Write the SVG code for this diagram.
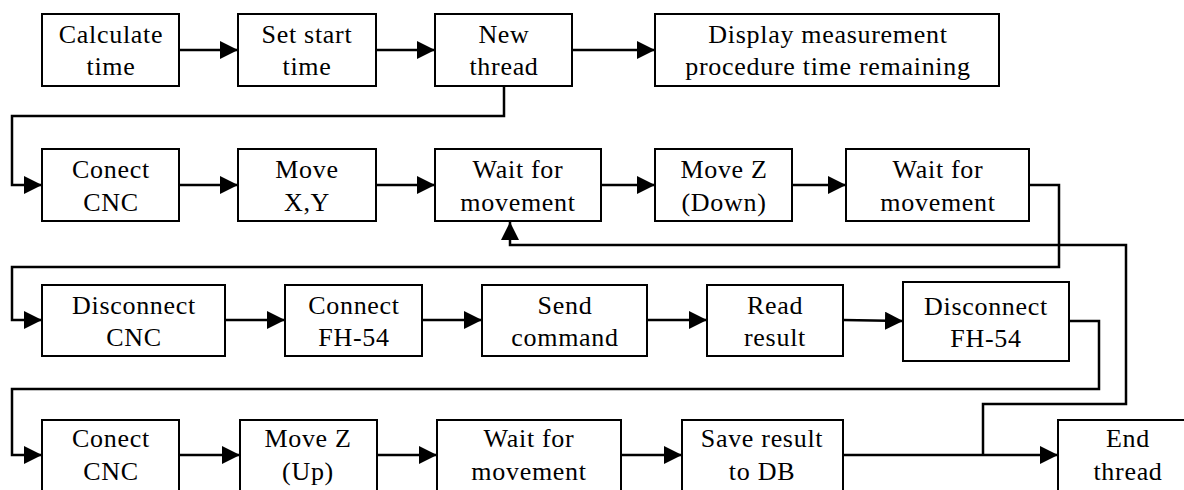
<svg xmlns="http://www.w3.org/2000/svg" width="1184" height="490" viewBox="0 0 1184 490">
<style>
.box{fill:#fff;stroke:#000;stroke-width:2}
.t{font-size:26px;letter-spacing:0.7px;text-anchor:middle;fill:#000}
.c{fill:none;stroke:#000;stroke-width:2.5;marker-end:url(#ah)}
</style>
<defs>
<marker id="ah" markerUnits="userSpaceOnUse" viewBox="0 0 18 18" refX="18" refY="9" markerWidth="18" markerHeight="18" orient="auto">
<polygon points="0,0 18,9 0,18" fill="#000"/>
</marker>
</defs>
<rect width="1184" height="490" fill="#fff"/>
<g id="connectors">
<path class="c" d="M179 50H238"/>
<path class="c" d="M376 50H435"/>
<path class="c" d="M572 50H655"/>
<path class="c" d="M504 86V116H12V185H42"/>
<path class="c" d="M179 185H238"/>
<path class="c" d="M376 185H435"/>
<path class="c" d="M601 185H655"/>
<path class="c" d="M792 185H846"/>
<path class="c" d="M1029 185H1059V267H12V320H42"/>
<path class="c" d="M225 320H285"/>
<path class="c" d="M422 320H482"/>
<path class="c" d="M647 320H707"/>
<path class="c" d="M843 320L903 321"/>
<path class="c" d="M1069 321H1099V389H12V455H42"/>
<path class="c" d="M179 455H240"/>
<path class="c" d="M377 455H437"/>
<path class="c" d="M621 455H682"/>
<path class="c" d="M843 455H1058"/>
<path class="c" d="M983 455V404H1126V245H510V222"/>
</g>
<g font-family="'Liberation Serif', 'Times New Roman', 'DejaVu Serif', serif">
<g id="n1"><rect class="box" x="42" y="14" width="137" height="72"/><text class="t" x="111" y="43">Calculate</text><text class="t" x="111" y="75">time</text></g>
<g id="n2"><rect class="box" x="238" y="14" width="138" height="72"/><text class="t" x="307" y="43">Set start</text><text class="t" x="307" y="75">time</text></g>
<g id="n3"><rect class="box" x="435" y="14" width="137" height="72"/><text class="t" x="504" y="43">New</text><text class="t" x="504" y="75">thread</text></g>
<g id="n4"><rect class="box" x="655" y="14" width="344" height="72"/><text class="t" x="828" y="43">Display measurement</text><text class="t" x="828" y="75">procedure time remaining</text></g>
<g id="n5"><rect class="box" x="42" y="149" width="137" height="72"/><text class="t" x="111" y="178">Conect</text><text class="t" x="111" y="211">CNC</text></g>
<g id="n6"><rect class="box" x="238" y="149" width="138" height="72"/><text class="t" x="307" y="178">Move</text><text class="t" x="307" y="211">X,Y</text></g>
<g id="n7"><rect class="box" x="435" y="149" width="166" height="72"/><text class="t" x="518" y="178">Wait for</text><text class="t" x="518" y="211">movement</text></g>
<g id="n8"><rect class="box" x="655" y="149" width="137" height="72"/><text class="t" x="724" y="178">Move Z</text><text class="t" x="724" y="211">(Down)</text></g>
<g id="n9"><rect class="box" x="846" y="149" width="183" height="72"/><text class="t" x="938" y="178">Wait for</text><text class="t" x="938" y="211">movement</text></g>
<g id="n10"><rect class="box" x="42" y="285" width="183" height="71"/><text class="t" x="134" y="314">Disconnect</text><text class="t" x="134" y="346">CNC</text></g>
<g id="n11"><rect class="box" x="285" y="285" width="137" height="71"/><text class="t" x="354" y="314">Connect</text><text class="t" x="354" y="346">FH-54</text></g>
<g id="n12"><rect class="box" x="482" y="285" width="165" height="71"/><text class="t" x="565" y="314">Send</text><text class="t" x="565" y="346">command</text></g>
<g id="n13"><rect class="box" x="707" y="285" width="136" height="71"/><text class="t" x="775" y="314">Read</text><text class="t" x="775" y="346">result</text></g>
<g id="n14"><rect class="box" x="903" y="282" width="166" height="79"/><text class="t" x="986" y="315">Disconnect</text><text class="t" x="986" y="347">FH-54</text></g>
<g id="n15"><rect class="box" x="42" y="420" width="137" height="72"/><text class="t" x="111" y="447">Conect</text><text class="t" x="111" y="480">CNC</text></g>
<g id="n16"><rect class="box" x="240" y="420" width="137" height="72"/><text class="t" x="308" y="447">Move Z</text><text class="t" x="308" y="480">(Up)</text></g>
<g id="n17"><rect class="box" x="437" y="420" width="184" height="72"/><text class="t" x="529" y="447">Wait for</text><text class="t" x="529" y="480">movement</text></g>
<g id="n18"><rect class="box" x="682" y="420" width="161" height="72"/><text class="t" x="762" y="447">Save result</text><text class="t" x="762" y="480">to DB</text></g>
<g id="n19"><rect class="box" x="1058" y="420" width="140" height="72"/><text class="t" x="1128" y="447">End</text><text class="t" x="1128" y="480">thread</text></g>
</g>
</svg>
